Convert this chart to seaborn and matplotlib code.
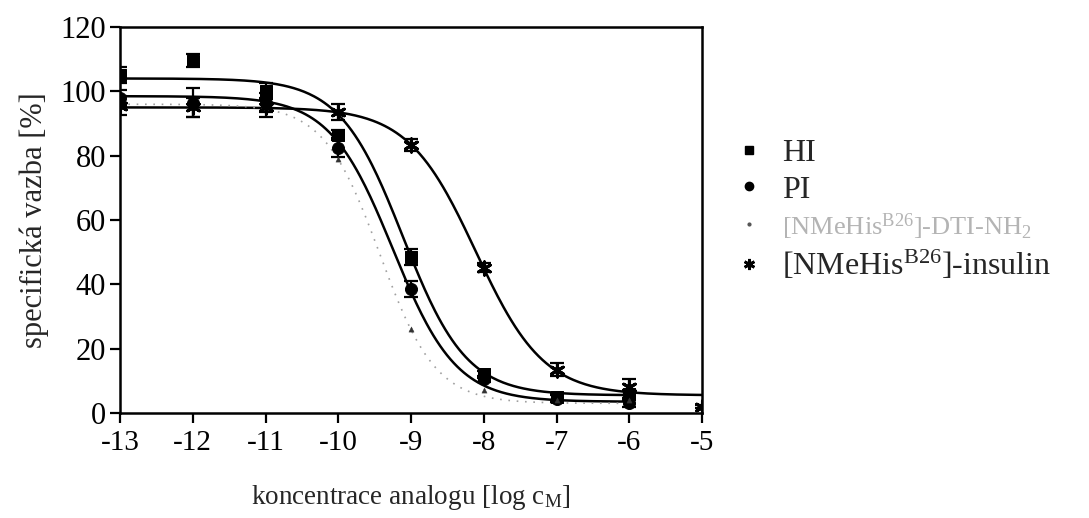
import numpy as np
import pandas as pd
import matplotlib
matplotlib.use("Agg")
import matplotlib.pyplot as plt
from matplotlib.lines import Line2D
import seaborn as sns

# ---- data ----
log_c = [-13, -12, -11, -10, -9, -8, -7, -6]
log_c_ins = [-13, -12, -11, -10, -9, -8, -7, -6, -5]

hi_vals = [105.0, 109.5, 100.0, 86.5, 48.5, 12.0, 5.0, 6.0]
hi_err = [2.5, 2.0, 2.5, 1.5, 2.5, 1.2, 1.0, 1.2]

pi_vals = [98.0, 96.5, 96.5, 82.5, 38.5, 10.5, 4.5, 3.0]
pi_err = [2.5, 4.5, 3.0, 3.0, 2.5, 1.0, 1.0, 1.0]

dti_vals = [95.5, 95.0, 95.5, 79.0, 26.0, 7.0, 4.0, 4.0]

ins_vals = [95.5, 95.0, 95.0, 93.5, 83.3, 45.2, 13.4, 8.1, 2.0]
ins_err = [3.0, 3.0, 3.0, 2.5, 2.0, 1.5, 2.0, 2.5, 0.5]

# four-parameter logistic fits: top, bottom, logEC50, hill
fit_names = ["HI", "PI", "DTI", "INS"]
fit_top = [104.0, 98.5, 96.0, 95.0]
fit_bottom = [5.5, 3.5, 3.0, 5.5]
fit_logec50 = [-9.11, -9.25, -9.43, -8.11]
fit_hill = [1.0, 1.0, 1.13, 0.93]
fit_xmax = [-6.0, -6.0, -6.0, -5.0]

labels = ["HI", "PI", "[NMeHis$^{\\mathrm{B26}}$]-DTI-NH$_{\\mathrm{2}}$",
          "[NMeHis$^{\\mathrm{B26}}$]-insulin"]

# ---- style ----
sns.set_theme(style="white")
plt.rcParams["font.family"] = ["Liberation Serif", "DejaVu Serif"]
plt.rcParams["mathtext.fontset"] = "custom"
plt.rcParams["mathtext.rm"] = "Liberation Serif"
plt.rcParams["mathtext.it"] = "Liberation Serif:italic"
plt.rcParams["mathtext.bf"] = "Liberation Serif:bold"

fig = plt.figure(figsize=(10.89, 5.18), dpi=100)
ax = fig.add_axes([120 / 1089, 1 - 413 / 518, (702 - 120) / 1089, (413 - 27) / 518])

# ---- fitted curves ----
curve_frames = []
for name, top, bot, c, h, xm in zip(fit_names, fit_top, fit_bottom, fit_logec50, fit_hill, fit_xmax):
    xs = np.linspace(-13, xm, 300)
    ys = bot + (top - bot) / (1 + 10 ** ((xs - c) * h))
    curve_frames.append(pd.DataFrame({"x": xs, "y": ys, "series": name}))
curves = pd.concat(curve_frames)

for name in ["HI", "PI", "INS"]:
    sns.lineplot(data=curves[curves.series == name], x="x", y="y", color="black",
                 lw=1.8, ax=ax, legend=False)
sns.lineplot(data=curves[curves.series == "DTI"], x="x", y="y", color="#a0a0a0",
             lw=1.2, ax=ax, legend=False)
ax.lines[-1].set_linestyle((0, (1, 4)))

# ---- points with error bars ----
ax.errorbar(log_c, hi_vals, yerr=hi_err, fmt="none", ecolor="black", elinewidth=1.6,
            capsize=5, capthick=1.6, zorder=3)
ax.errorbar(log_c, pi_vals, yerr=pi_err, fmt="none", ecolor="black", elinewidth=1.6,
            capsize=5, capthick=1.6, zorder=3)
ax.errorbar(log_c_ins, ins_vals, yerr=ins_err, fmt="none", ecolor="black", elinewidth=1.6,
            capsize=5, capthick=1.6, zorder=3)

df_hi = pd.DataFrame({"x": log_c, "y": hi_vals})
df_pi = pd.DataFrame({"x": log_c, "y": pi_vals})
df_dti = pd.DataFrame({"x": log_c, "y": dti_vals})
df_ins = pd.DataFrame({"x": log_c_ins, "y": ins_vals})

sns.scatterplot(data=df_hi, x="x", y="y", marker="s", s=80, color="black",
                edgecolor="black", ax=ax, zorder=4)
sns.scatterplot(data=df_pi, x="x", y="y", marker="o", s=75, color="black",
                edgecolor="black", ax=ax, zorder=4)
sns.scatterplot(data=df_dti, x="x", y="y", marker="^", s=14, color="#333333",
                edgecolor="#333333", ax=ax, zorder=4)
sns.scatterplot(data=df_ins, x="x", y="y", marker=(6, 2, 0), s=90, color="black",
                linewidth=2.2, ax=ax, zorder=4)

# ---- axes ----
ax.set_xlim(-13, -5)
ax.set_ylim(0, 120)
ax.set_xticks(range(-13, -4))
ax.set_xticklabels([str(v) for v in range(-13, -4)])
ax.set_yticks(range(0, 121, 20))
for sp in ax.spines.values():
    sp.set_visible(True)
    sp.set_color("black")
    sp.set_linewidth(1.8)
ax.tick_params(axis="both", which="major", direction="out", length=7, width=1.6,
               color="black", labelcolor="black", bottom=True, left=True)
ax.tick_params(axis="x", labelsize=21, pad=5)
ax.tick_params(axis="y", labelsize=22, pad=3)
ax.set_xlabel("koncentrace analogu [log c$_{\\mathrm{M}}$]", fontsize=19.5, labelpad=20)
ax.set_ylabel("specifická vazba [%]", fontsize=22, labelpad=8)

# ---- legend ----
handles = [
    Line2D([], [], ls="none", marker="s", ms=6, color="black"),
    Line2D([], [], ls="none", marker="o", ms=6, color="black"),
    Line2D([], [], ls="none", marker=".", ms=4, color="#555555"),
    Line2D([], [], ls="none", marker=(6, 2, 0), ms=8, mew=2, color="black"),
]
leg = fig.legend(handles, labels, loc="upper left", bbox_to_anchor=(720 / 1089, 1 - 126 / 518),
                 frameon=False, fontsize=23, handlelength=1.0, handletextpad=0.55,
                 labelspacing=0.22, borderaxespad=0)
leg.get_texts()[2].set_color("#b4b4b4")
leg.get_texts()[2].set_fontsize(19)

fig.savefig("out.png", dpi=100)
